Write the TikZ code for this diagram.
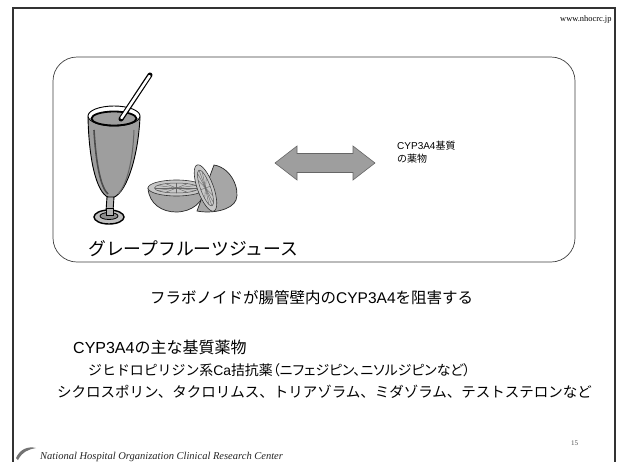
\documentclass[tikz,border=0pt]{standalone}
\usepackage{fontspec}
\newfontfamily\jp{Noto Sans CJK JP}
\newfontfamily\jpp{Noto Sans CJK JP}[RawFeature=+palt]
\newfontfamily\lat{Liberation Sans}
\newfontfamily\serifrm{Liberation Serif}
\begin{document}
\begin{tikzpicture}[x=1pt,y=-1pt,
  frameline/.style={line width=1.3pt, draw=black!80},
  panel/.style={line width=0.7pt, draw=black!75, rounded corners=24pt},
  liquid/.style={fill=black!38},
  ink/.style={draw=black, line width=0.9pt},
  fruit/.style={fill=black!35, draw=black!85, line width=0.7pt},
  pulp/.style={fill=black!22, draw=black!80, line width=0.6pt},
  bigarrow/.style={fill=black!38, draw=black!60, line width=0.6pt},
  jptext/.style={inner sep=0pt, anchor=base west, font=\jp},
  serif/.style={inner sep=0pt, anchor=base west, font=\serifrm}]
\useasboundingbox (0,0) rectangle (621,461);
\fill[white] (0,0) rectangle (621,461);

% slide frame (open at the bottom)
\draw[frameline] (13,475) -- (13,8) -- (615,8) -- (615,475);
\node[serif, font=\serifrm\fontsize{8.4}{9}\selectfont] (url) at (560,21) {www.nhocrc.jp};

% panel
\draw[panel] (53,57) rectangle (575,262);

% --- glass of juice ---
% bowl with liquid
\path[liquid, ink] (88,117) .. controls (89,165) and (98,197) .. (111,198)
   .. controls (125,197) and (138,160) .. (140,117) -- cycle;
\draw[black!70, line width=1.6pt] (94,130) .. controls (96,165) and (101,188) .. (108,194);
\draw[black!60, line width=1pt] (134,130) .. controls (133,160) and (127,185) .. (118,194);
% stem
\path[fill=black!30, ink] (107,197) -- (106,211) -- (113,211) -- (114,197) -- cycle;
% foot
\path[fill=black!25, draw=black, line width=1.4pt] (109,217) ellipse [x radius=15, y radius=7];
\path[fill=black!45, draw=black, line width=0.8pt] (109,216) ellipse [x radius=9, y radius=3.5];
\path[fill=black!30, ink] (106,208) -- (106,215) -- (113,215) -- (113,208) -- cycle;
% rim and liquid surface
\path[fill=white, ink] (114,116) ellipse [x radius=26, y radius=10];
\path[liquid, draw=black, line width=1.8pt] (114,118.5) ellipse [x radius=22.5, y radius=7];
% straw
\draw[black, line width=5pt, line cap=round] (121,119) -- (150,75);
\draw[white, line width=2.6pt, line cap=round] (121.5,118) -- (149.5,76);

% --- grapefruit halves ---
% bowl-shaped half, cut face up
\path[fruit] (148,188) .. controls (149,204) and (162,212) .. (176,212)
   .. controls (192,212) and (204,202) .. (205,188) -- cycle;
\path[pulp] (176.5,188) ellipse [x radius=28.5, y radius=8];
\draw[black!70, line width=0.5pt] (176.5,188) ellipse [x radius=22, y radius=5];
\foreach \a in {0,30,...,330}
  \draw[black!60, line width=0.4pt] (176.5,188) -- ++({22*cos(\a)},{5*sin(\a)});
% upright half, cut face towards the left
\path[fruit] (214,165) .. controls (232,168) and (240,190) .. (236,200)
   .. controls (232,210) and (212,214) .. (197,211) -- cycle;
\begin{scope}[shift={(205.5,188)}, rotate=-70]
  \path[pulp] (0,0) ellipse [x radius=24.5, y radius=8];
  \draw[black!70, line width=0.5pt] (0,0) ellipse [x radius=19, y radius=5];
  \foreach \a in {0,30,...,330}
    \draw[black!60, line width=0.4pt] (0,0) -- ({19*cos(\a)},{5*sin(\a)});
\end{scope}

\node[jptext, font=\jp\fontsize{17.8}{20}\selectfont] (juice) at (88,255) {グレープフルーツジュース};

% double-headed arrow
\path[bigarrow] (275,163) -- (297,146) -- (297,153.5) -- (353,153.5) -- (353,146)
  -- (375,163) -- (353,180) -- (353,172.5) -- (297,172.5) -- (297,180) -- cycle;
\node[jptext, font=\jp\fontsize{10}{12.5}\selectfont, align=left, anchor=north west] (drug) at (397,141)
  {{\lat CYP3A4}基質\\の薬物};

% statements
\node[jptext, font=\jp\fontsize{15.5}{18}\selectfont] (flav) at (150,303)
  {フラボノイドが腸管壁内の{\lat CYP3A4}を阻害する};
\node[jptext, font=\jp\fontsize{16}{19}\selectfont] (head) at (73,353)
  {{\lat CYP3A4}の主な基質薬物};
\node[jptext, font=\jp\fontsize{13.9}{16}\selectfont] (ca) at (88,375)
  {ジヒドロピリジン系{\lat Ca}拮抗薬{\jpp （ニフェジピン、ニソルジピンなど）}};
\node[jptext, font=\jp\fontsize{14.5}{16}\selectfont] (others) at (57,397)
  {シクロスポリン、タクロリムス、トリアゾラム、ミダゾラム、テストステロンなど};

% footer
\path[fill=black!55] (16,458) .. controls (20,449) and (28,446) .. (36,448)
  .. controls (29,449) and (22,452) .. (18,460) -- cycle;
\node[serif, font=\serifrm\itshape\fontsize{10.5}{12}\selectfont, text=black!85] (org) at (40,459)
  {National Hospital Organization Clinical Research Center};
\node[serif, font=\serifrm\fontsize{7}{8}\selectfont, text=black!70] (page) at (571,445) {15};
\end{tikzpicture}
\end{document}
